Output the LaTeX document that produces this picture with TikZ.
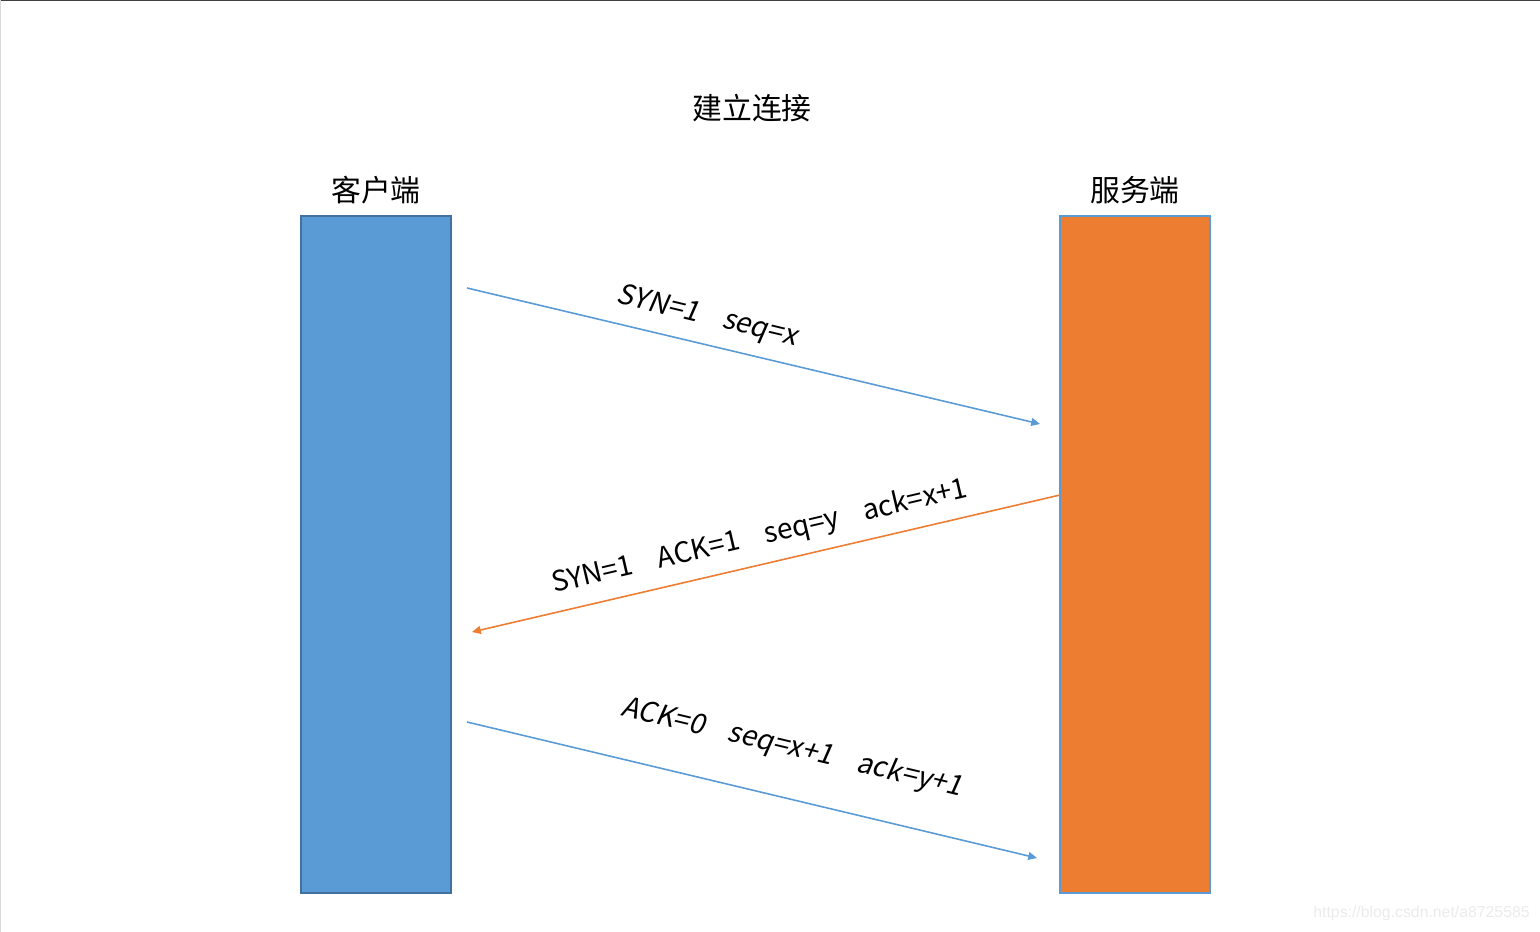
\documentclass[tikz,border=0pt]{standalone}
\usepackage{fontspec}
\setmainfont{Noto Sans CJK SC}
\newfontfamily\slantfont[FakeSlant=0.18]{Noto Sans CJK SC}
\newfontfamily\markfont{Liberation Sans}
\usepackage{tikz}
\usetikzlibrary{positioning,arrows.meta}
\definecolor{cblue}{HTML}{5B9BD5}
\definecolor{cblueedge}{HTML}{41719C}
\definecolor{corange}{HTML}{ED7D31}
\newcommand{\gap}{\hspace{0.9em}}
\tikzset{host/.style={rectangle,inner sep=0pt,minimum width=3cm,minimum height=13.54cm},
	 hostname/.style={font=\fontsize{17}{20}\selectfont},
	 msg/.style={line width=0.9pt,-{Triangle[length=5pt,width=4.5pt]}},
	 msgtext/.style={inner sep=0pt,font=\fontsize{16}{19}\selectfont},
	 node distance = 1
	 }

\begin{document}
\begin{tikzpicture}[x=0.02cm,y=-0.02cm] % three-way handshake
	\useasboundingbox (0,0) rectangle (1540,932);
	\draw[black!75,line width=1.2pt] (0,0) -- (1540,0);
	\draw[black!15,line width=0.6pt] (0,0) -- (0,932);
	\node[hostname] (title) at (752,108) {建立连接};
	\node[host,fill=cblue,draw=cblueedge,line width=0.9pt] (client) at (376,554.5) {};
	\node[host,fill=corange,draw=cblue,line width=1.2pt] (server) at (1135,554.5) {};
	\node[hostname,above=0.1cm of client] (clientname) {客户端};
	\node[hostname,above=0.1cm of server] (servername) {服务端};
	\coordinate (s1) at (467,288); \coordinate (e1) at (1040,424);
	\coordinate (s2) at (1060,495); \coordinate (e2) at (472,632);
	\coordinate (s3) at (467,722); \coordinate (e3) at (1037,858);
	\draw[msg,cblue] (s1) -- (e1);
	\draw[msg,corange] (s2) -- (e2);
	\draw[msg,cblue] (s3) -- (e3);
	\node[msgtext,rotate=-13.4] (m1) at (707,317) {\slantfont SYN=1\gap seq=x};
	\node[msgtext,rotate=13.1] (m2) at (760,537) {SYN=1\gap ACK=1\gap seq=y\gap ack=x+1};
	\node[msgtext,rotate=-13.4] (m3) at (792,748) {\slantfont ACK=0\gap seq=x+1\gap ack=y+1};
	\node[font=\markfont\fontsize{9}{11}\selectfont,text=black!8,anchor=east,inner sep=0pt] (mark) at (1530,913) {https://blog.csdn.net/a8725585};
\end{tikzpicture}
\end{document}
